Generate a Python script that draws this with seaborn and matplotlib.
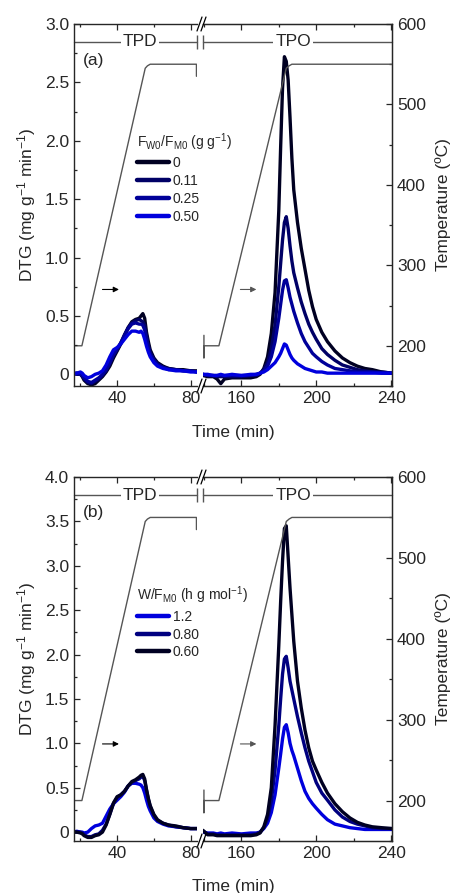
import numpy as np
import pandas as pd
import matplotlib.pyplot as plt
import seaborn as sns
from matplotlib.lines import Line2D
from matplotlib.ticker import MultipleLocator, FuncFormatter, NullLocator

# ---- data -------------------------------------------------------------
t_tpd = [16.5, 18, 20, 21, 22, 24, 26, 28, 30, 32, 34, 36, 38, 40, 42, 44, 46, 48,
         50, 52, 53, 54, 55, 56, 57, 58, 60, 62, 65, 68, 72, 76, 80, 83.5]
t_tpo = [139.5, 142, 145, 147, 149, 151, 155, 160, 165, 168, 170, 172, 174, 176, 178,
         180, 181, 182, 183, 184, 185, 186, 187, 188, 190, 192, 194, 196, 198, 200,
         203, 206, 210, 214, 218, 222, 226, 230, 235, 240.5]

temp_tpd_time = [16.5, 20.8, 55.3, 56.5, 58.0, 83.2, 83.2]
temp_tpd_val = [200, 200, 545, 548, 550, 550, 535]
temp_tpo_time = [140.0, 140.0, 140.0, 148.0, 184.0, 185.5, 187.0, 240.5]
temp_tpo_val = [213, 185, 200, 200, 545, 548, 550, 550]

# panel (a): F_W0/F_M0
a_labels = ['0', '0.11', '0.25', '0.50']
a_colors = ['#000022', '#000066', '#000099', '#0000dd']
a_tpd_0 = [0.00, 0.01, 0.00, -0.02, -0.05, -0.08, -0.09, -0.08, -0.05, -0.02, 0.02, 0.07, 0.14,
           0.20, 0.26, 0.33, 0.40, 0.45, 0.47, 0.48, 0.50, 0.52, 0.48, 0.36, 0.28, 0.21, 0.14,
           0.10, 0.07, 0.05, 0.04, 0.04, 0.03, 0.03]
a_tpd_011 = [0.01, 0.00, 0.00, -0.01, -0.04, -0.07, -0.08, -0.06, -0.04, -0.01, 0.03, 0.09, 0.16,
             0.21, 0.27, 0.34, 0.40, 0.44, 0.46, 0.47, 0.46, 0.45, 0.42, 0.33, 0.25, 0.19, 0.13,
             0.09, 0.06, 0.05, 0.04, 0.03, 0.03, 0.02]
a_tpd_025 = [0.01, 0.01, 0.00, -0.01, -0.03, -0.06, -0.07, -0.05, -0.03, 0.00, 0.04, 0.10, 0.17,
             0.22, 0.27, 0.33, 0.39, 0.43, 0.44, 0.43, 0.43, 0.42, 0.38, 0.30, 0.23, 0.17, 0.12,
             0.08, 0.06, 0.04, 0.04, 0.03, 0.03, 0.02]
a_tpd_050 = [0.00, 0.01, 0.02, 0.01, -0.01, -0.03, -0.02, 0.00, 0.01, 0.03, 0.08, 0.15, 0.21,
             0.23, 0.26, 0.30, 0.34, 0.37, 0.37, 0.36, 0.37, 0.35, 0.30, 0.24, 0.19, 0.15, 0.10,
             0.07, 0.05, 0.04, 0.03, 0.03, 0.02, 0.02]
a_tpo_0 = [-0.01, -0.02, -0.02, -0.04, -0.08, -0.04, -0.03, -0.03, -0.03, -0.02, 0.00, 0.05,
           0.15, 0.35, 0.70, 1.40, 1.95, 2.45, 2.72, 2.68, 2.52, 2.20, 1.85, 1.58, 1.30, 1.08,
           0.90, 0.72, 0.58, 0.47, 0.36, 0.28, 0.20, 0.14, 0.10, 0.07, 0.05, 0.04, 0.02, 0.01]
a_tpo_011 = [0.00, -0.01, -0.01, -0.02, -0.02, -0.02, -0.02, -0.02, -0.01, -0.01, 0.01, 0.04,
             0.10, 0.22, 0.42, 0.75, 0.95, 1.15, 1.30, 1.35, 1.25, 1.10, 0.97, 0.87, 0.74, 0.62,
             0.52, 0.43, 0.36, 0.30, 0.22, 0.17, 0.12, 0.08, 0.06, 0.04, 0.03, 0.02, 0.02, 0.01]
a_tpo_025 = [0.00, -0.01, -0.01, -0.01, -0.01, -0.01, -0.01, -0.01, -0.01, 0.00, 0.01, 0.03,
             0.07, 0.15, 0.28, 0.48, 0.60, 0.72, 0.80, 0.81, 0.74, 0.66, 0.60, 0.54, 0.44, 0.35,
             0.28, 0.23, 0.18, 0.15, 0.11, 0.08, 0.05, 0.04, 0.03, 0.02, 0.02, 0.02, 0.01, 0.01]
a_tpo_050 = [0.00, 0.00, -0.01, -0.01, 0.00, -0.01, 0.00, -0.01, 0.00, 0.00, 0.01, 0.02,
             0.04, 0.07, 0.10, 0.15, 0.18, 0.22, 0.26, 0.25, 0.21, 0.17, 0.14, 0.12, 0.09, 0.07,
             0.05, 0.04, 0.03, 0.02, 0.02, 0.01, 0.01, 0.01, 0.01, 0.01, 0.01, 0.01, 0.01, 0.01]

# panel (b): W/F_M0
b_labels = ['1.2', '0.80', '0.60']
b_colors = ['#0000dd', '#000080', '#000022']
b_tpd_12 = [0.00, 0.01, 0.00, 0.00, -0.01, 0.00, 0.04, 0.07, 0.08, 0.10, 0.18, 0.26, 0.32,
            0.36, 0.40, 0.45, 0.52, 0.55, 0.55, 0.54, 0.53, 0.50, 0.44, 0.36, 0.29, 0.24, 0.16,
            0.12, 0.09, 0.07, 0.06, 0.05, 0.04, 0.04]
b_tpd_080 = [0.01, 0.00, 0.00, -0.01, -0.03, -0.05, -0.05, -0.03, -0.02, 0.02, 0.09, 0.20, 0.32,
             0.39, 0.42, 0.46, 0.52, 0.56, 0.58, 0.60, 0.62, 0.63, 0.58, 0.47, 0.37, 0.29, 0.19,
             0.13, 0.10, 0.08, 0.06, 0.05, 0.04, 0.04]
b_tpd_060 = [0.00, 0.00, -0.01, -0.02, -0.04, -0.06, -0.06, -0.04, -0.03, 0.00, 0.08, 0.20, 0.33,
             0.40, 0.42, 0.46, 0.52, 0.57, 0.59, 0.62, 0.64, 0.65, 0.60, 0.48, 0.38, 0.30, 0.20,
             0.14, 0.10, 0.08, 0.07, 0.05, 0.04, 0.04]
b_tpo_12 = [0.00, -0.01, -0.01, -0.02, -0.01, -0.02, -0.01, -0.02, -0.01, -0.01, 0.00, 0.04,
            0.10, 0.22, 0.42, 0.72, 0.88, 1.05, 1.18, 1.21, 1.12, 1.00, 0.92, 0.86, 0.72, 0.58,
            0.46, 0.38, 0.32, 0.27, 0.20, 0.14, 0.09, 0.07, 0.05, 0.04, 0.03, 0.03, 0.03, 0.03]
b_tpo_080 = [0.01, -0.02, -0.02, -0.03, -0.03, -0.03, -0.03, -0.03, -0.03, -0.02, 0.00, 0.05,
             0.15, 0.35, 0.70, 1.20, 1.50, 1.78, 1.95, 1.98, 1.85, 1.70, 1.60, 1.50, 1.30, 1.12,
             0.95, 0.80, 0.68, 0.56, 0.44, 0.36, 0.25, 0.17, 0.12, 0.09, 0.07, 0.05, 0.04, 0.04]
b_tpo_060 = [0.02, -0.03, -0.03, -0.04, -0.04, -0.04, -0.04, -0.04, -0.04, -0.03, -0.01, 0.06,
             0.20, 0.50, 1.20, 2.10, 2.60, 3.05, 3.42, 3.45, 3.10, 2.75, 2.45, 2.15, 1.70, 1.40,
             1.15, 0.95, 0.80, 0.70, 0.56, 0.44, 0.32, 0.23, 0.16, 0.11, 0.08, 0.06, 0.05, 0.04]

# ---- style ------------------------------------------------------------
sns.set_style('ticks')
plt.rcParams['font.family'] = ['Liberation Sans', 'DejaVu Sans']
plt.rcParams['mathtext.fontset'] = 'custom'
plt.rcParams['mathtext.rm'] = 'Liberation Sans'
plt.rcParams['mathtext.it'] = 'Liberation Sans:italic'
plt.rcParams['mathtext.default'] = 'regular'
plt.rcParams['xtick.direction'] = 'in'
plt.rcParams['ytick.direction'] = 'in'

FS = 12.5
GREY = '#555555'
W, H = 454, 893


def px_x(x):
    return x / W


def px_y(y):
    return 1 - y / H


def draw_series(ax, t, ys, colors):
    for y, c in zip(ys, colors):
        df = pd.DataFrame({'t': t, 'dtg': y})
        sns.lineplot(data=df, x='t', y='dtg', color=c, linewidth=2.4,
                     estimator=None, sort=False, ax=ax)


def draw_panel(fig, top_px, bot_px, ymax, tpd_ys, tpo_ys, colors, labels,
               leg_title, tag):
    x0, x1, x2, x3 = 74, 197, 203, 392
    b = px_y(bot_px)
    h = px_y(top_px) - b
    axL = fig.add_axes([px_x(x0), b, px_x(x1 - x0), h])
    axR = fig.add_axes([px_x(x2), b, px_x(x3 - x2), h])
    axR.patch.set_visible(False)

    draw_series(axL, t_tpd, tpd_ys, colors)
    draw_series(axR, t_tpo, tpo_ys, colors)

    # temperature axes (twinx re-enables left ticks on the host, so set ticks afterwards)
    tL = axL.twinx()
    tR = axR.twinx()

    for ax in (axL, axR):
        ax.set_ylim(-0.1, ymax)
        ax.set_xlabel('')
        ax.set_ylabel('')
        ax.yaxis.set_major_locator(MultipleLocator(0.5))
        ax.yaxis.set_minor_locator(MultipleLocator(0.25))
        ax.xaxis.set_minor_locator(MultipleLocator(20))
        ax.tick_params(which='both', top=True, labelsize=FS)
        ax.tick_params(which='major', length=4.5, width=0.9)
        ax.tick_params(which='minor', length=2.5, width=0.9)
        for s in ax.spines.values():
            s.set_linewidth(1.0)

    axL.set_xlim(16.5, 83.5)
    axL.xaxis.set_major_locator(MultipleLocator(40))
    axL.spines['right'].set_visible(False)
    axL.tick_params(which='both', right=False)
    axL.yaxis.set_major_formatter(FuncFormatter(lambda v, p: '0' if abs(v) < 1e-9 else f'{v:.1f}'))
    axL.set_ylabel('DTG (mg g$^{-1}$ min$^{-1}$)', fontsize=FS, va='center')
    axL.yaxis.set_label_coords(-0.382, 0.5)

    axR.set_xlim(139.5, 240.5)
    axR.xaxis.set_major_locator(MultipleLocator(40))
    axR.spines['left'].set_visible(False)
    axR.yaxis.set_major_locator(NullLocator())
    axR.yaxis.set_minor_locator(NullLocator())
    axR.tick_params(which='both', left=False, right=False, labelleft=False)

    for tax in (tL, tR):
        tax.set_ylim(150, 600)
        tax.patch.set_visible(False)
    tL.plot(temp_tpd_time, temp_tpd_val, color=GREY, lw=1.0)
    tR.plot(temp_tpo_time, temp_tpo_val, color=GREY, lw=1.0)
    for s in tL.spines.values():
        s.set_visible(False)
    tL.set_yticks([])
    tR.spines['left'].set_visible(False)
    tR.yaxis.set_major_locator(MultipleLocator(100))
    tR.yaxis.set_minor_locator(MultipleLocator(50))
    tR.tick_params(which='both', left=False, labelleft=False, right=True, labelsize=FS)
    tR.tick_params(which='major', length=4.5, width=0.9)
    tR.tick_params(which='minor', length=2.5, width=0.9)
    tR.set_ylabel('Temperature (ºC)', fontsize=FS, va='center')
    tR.yaxis.set_label_coords(1.27, 0.5)

    # arrows pointing to the temperature axis
    tL.annotate('', xy=(42.5, 270), xytext=(30.5, 270),
                arrowprops=dict(arrowstyle='-|>', color='black', lw=0.8, mutation_scale=8))
    tR.annotate('', xy=(169.5, 270), xytext=(158, 270),
                arrowprops=dict(arrowstyle='-|>', color=GREY, lw=0.8, mutation_scale=8))

    # TPD / TPO bar
    yb = 1 - 18 / (bot_px - top_px)
    axL.plot([0, 1], [yb, yb], transform=axL.transAxes, color=GREY, lw=1.0, clip_on=False)
    axL.plot([1], [yb], transform=axL.transAxes, color=GREY, marker='|', ms=10, mew=1.0, clip_on=False)
    axR.plot([0, 1], [yb, yb], transform=axR.transAxes, color=GREY, lw=1.0, clip_on=False)
    axR.plot([0], [yb], transform=axR.transAxes, color=GREY, marker='|', ms=10, mew=1.0, clip_on=False)
    box = dict(facecolor='white', edgecolor='none', pad=1.2)
    axL.text(0.537, yb, 'TPD', transform=axL.transAxes, ha='center', va='center',
             fontsize=FS, bbox=box)
    axR.text(0.476, yb, 'TPO', transform=axR.transAxes, ha='center', va='center',
             fontsize=FS, bbox=box)

    axL.text(0.07, 1 - 36 / (bot_px - top_px), tag, transform=axL.transAxes,
             ha='left', va='center', fontsize=FS)

    # break marks
    for y in (top_px, bot_px):
        for xc in (199.5, 203.5):
            fig.add_artist(Line2D([px_x(xc - 2.5), px_x(xc + 2.5)],
                                  [px_y(y + 7), px_y(y - 7)], color='black', lw=0.9))

    handles = [Line2D([0], [0], color=c, lw=3.2) for c in colors]
    axL.legend(handles, labels, title=leg_title, loc='upper left',
               bbox_to_anchor=(0.47, 0.72), frameon=False, fontsize=10,
               title_fontsize=10, handlelength=2.3, handletextpad=0.25,
               labelspacing=0.27, borderaxespad=0, alignment='left')
    axL.set_zorder(3)
    axL.patch.set_visible(False)
    return axL, axR


fig = plt.figure(figsize=(W / 100, H / 100), dpi=100)

draw_panel(fig, 24, 386, 3.0,
           [a_tpd_0, a_tpd_011, a_tpd_025, a_tpd_050],
           [a_tpo_0, a_tpo_011, a_tpo_025, a_tpo_050],
           a_colors, a_labels, 'F$_{W0}$/F$_{M0}$ (g g$^{-1}$)', '(a)')
draw_panel(fig, 477, 841, 4.0,
           [b_tpd_12, b_tpd_080, b_tpd_060],
           [b_tpo_12, b_tpo_080, b_tpo_060],
           b_colors, b_labels, 'W/F$_{M0}$ (h g mol$^{-1}$)', '(b)')

fig.text(px_x(233), px_y(432), 'Time (min)', ha='center', va='center', fontsize=FS)
fig.text(px_x(233), px_y(887), 'Time (min)', ha='center', va='center', fontsize=FS)

fig.savefig('out.png', dpi=100)
